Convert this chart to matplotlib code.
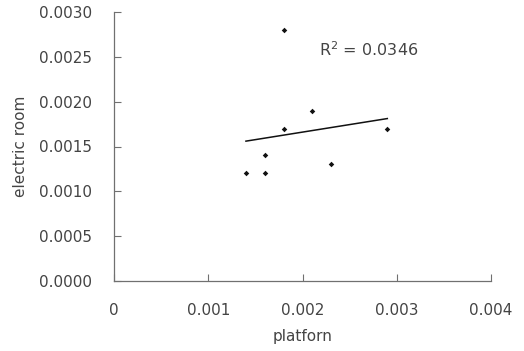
import numpy as np
import matplotlib
matplotlib.use("Agg")
import matplotlib.pyplot as plt

platform = [0.0018, 0.0021, 0.0018, 0.0029, 0.0016, 0.0014, 0.0016, 0.0023]
electric_room = [0.0028, 0.0019, 0.0017, 0.0017, 0.0014, 0.0012, 0.0012, 0.0013]
x_ticks = [0, 0.001, 0.002, 0.003, 0.004]
x_tick_labels = ["0", "0.001", "0.002", "0.003", "0.004"]
y_ticks = [0.0, 0.0005, 0.0010, 0.0015, 0.0020, 0.0025, 0.0030]
y_tick_labels = ["0.0000", "0.0005", "0.0010", "0.0015", "0.0020", "0.0025", "0.0030"]
r2_text = "R$^2$ = 0.0346"

plt.rcParams['font.family'] = ['DejaVu Sans']
fig = plt.figure(figsize=(5.24, 3.51), dpi=100)
ax = fig.add_axes([114/524, 1 - 281/351, (491-114)/524, (281-12)/351])

text_c = '#444444'
axis_c = '#707070'

ax.scatter(platform, electric_room, s=8, marker='D', color='#111111', zorder=3, linewidths=0)

x = np.array(platform)
y = np.array(electric_room)
m, b = np.polyfit(x, y, 1)
xs = np.array([x.min(), x.max()])
ax.plot(xs, m * xs + b, color='#111111', lw=1.1)

ax.text(0.00218, 0.002575, r2_text, fontsize=11.5, color=text_c, va='center', ha='left')

ax.set_xlim(0, 0.004)
ax.set_ylim(0, 0.0030)
ax.set_xticks(x_ticks)
ax.set_xticklabels(x_tick_labels)
ax.set_yticks(y_ticks)
ax.set_yticklabels(y_tick_labels)

for s in ['top', 'right']:
    ax.spines[s].set_visible(False)
for s in ['left', 'bottom']:
    ax.spines[s].set_color(axis_c)
    ax.spines[s].set_linewidth(0.9)

ax.tick_params(axis='both', direction='in', length=5, width=0.8, color=axis_c,
               labelsize=11, labelcolor=text_c)
ax.tick_params(axis='y', pad=16)
ax.tick_params(axis='x', pad=16)

ax.set_xlabel("platforn", fontsize=11, color=text_c, labelpad=8)
ax.set_ylabel("electric room", fontsize=11, color=text_c, labelpad=8)

fig.savefig("out.png", dpi=100)
